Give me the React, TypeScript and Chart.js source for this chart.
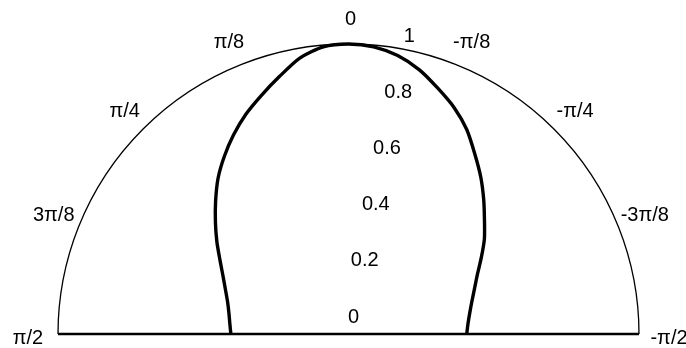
import { useEffect, useRef } from "react";
import { Chart, registerables } from "chart.js";

Chart.register(...registerables);

// Normalised pattern magnitude, sampled by angle from broadside (degrees).
// Positive angles open to the left half, negative angles to the right half.
const LEFT_ANGLES = [0, 5, 10, 15, 20, 25, 30, 35, 40, 45, 50, 55, 60, 65, 70, 75, 80, 85, 90];
const LEFT_GAIN = [1.0, 0.994, 0.966, 0.919, 0.876, 0.836, 0.792, 0.746, 0.699, 0.647, 0.598, 0.553, 0.511, 0.477, 0.451, 0.431, 0.418, 0.41, 0.405];

const RIGHT_ANGLES = [0, -5, -10, -15, -20, -25, -30, -35, -40, -45, -50, -55, -60, -65, -70, -75, -80, -85, -90];
const RIGHT_GAIN = [1.0, 0.994, 0.975, 0.943, 0.901, 0.861, 0.814, 0.758, 0.708, 0.658, 0.611, 0.571, 0.528, 0.49, 0.462, 0.44, 0.424, 0.413, 0.407];

// Radial axis labels, drawn along a spoke at -π/16
const RADIAL_TICKS = [0, 0.2, 0.4, 0.6, 0.8, 1];
const RADIAL_TICK_LABELS = ["0", "0.2", "0.4", "0.6", "0.8", "1"];
const RADIAL_AXIS_ANGLE = -11.25;

// Angular labels around the rim (degrees)
const ANGLE_TICKS = [0, 22.5, 45, 67.5, 90, -22.5, -45, -67.5, -90];
const ANGLE_TICK_LABELS = ["0", "π/8", "π/4", "3π/8", "π/2", "-π/8", "-π/4", "-3π/8", "-π/2"];

const FONT = '20px "Liberation Sans", Arial, Helvetica, sans-serif';

const toRad = (d: number) => (d * Math.PI) / 180;

function patternPoints() {
  const samples: { a: number; g: number }[] = [];
  RIGHT_ANGLES.forEach((a, i) => samples.push({ a, g: RIGHT_GAIN[i] }));
  LEFT_ANGLES.forEach((a, i) => {
    if (a !== 0) samples.push({ a, g: LEFT_GAIN[i] });
  });
  samples.sort((p, q) => p.a - q.a);
  return samples.map(({ a, g }) => ({ x: -g * Math.sin(toRad(a)), y: g * Math.cos(toRad(a)) }));
}

const polarFrame = {
  id: "polarFrame",
  beforeDatasetsDraw(chart: any) {
    const { ctx, scales } = chart;
    const xs = scales.x;
    const ys = scales.y;
    const cx = xs.getPixelForValue(0);
    const cy = ys.getPixelForValue(0);
    const rx = xs.getPixelForValue(1) - cx;
    const ry = cy - ys.getPixelForValue(1);
    ctx.save();
    ctx.strokeStyle = "#000";
    ctx.lineWidth = 1.3;
    ctx.beginPath();
    ctx.ellipse(cx, cy, rx, ry, 0, Math.PI, 2 * Math.PI);
    ctx.stroke();
    ctx.lineWidth = 2.4;
    ctx.beginPath();
    ctx.moveTo(cx - rx, cy);
    ctx.lineTo(cx + rx, cy);
    ctx.stroke();
    ctx.restore();
  },
  afterDraw(chart: any) {
    const { ctx, scales } = chart;
    const xs = scales.x;
    const ys = scales.y;
    const cx = xs.getPixelForValue(0);
    const cy = ys.getPixelForValue(0);
    const rx = xs.getPixelForValue(1) - cx;
    const ry = cy - ys.getPixelForValue(1);
    ctx.save();
    ctx.fillStyle = "#000";
    ctx.font = FONT;
    ctx.textAlign = "center";
    ctx.textBaseline = "middle";

    // rim labels
    ANGLE_TICKS.forEach((deg, i) => {
      const t = toRad(deg);
      const s = Math.sin(t);
      const gap = 26 + 4 * s * s;
      const x = cx - (rx + gap) * s + 2 * Math.cos(t);
      const y = cy - (ry + gap) * Math.cos(t) + 3 * s * s + 1;
      ctx.fillText(ANGLE_TICK_LABELS[i], x, y);
    });

    // radial value labels
    const ta = toRad(RADIAL_AXIS_ANGLE);
    RADIAL_TICKS.forEach((v, i) => {
      const x = cx - v * rx * 0.985 * Math.sin(ta) + 5;
      const y = cy - v * ry * 0.985 * Math.cos(ta) - 17;
      ctx.fillText(RADIAL_TICK_LABELS[i], x, y);
    });
    ctx.restore();
  },
};

export default function App() {
  const canvasRef = useRef<HTMLCanvasElement | null>(null);

  useEffect(() => {
    const canvas = canvasRef.current;
    if (!canvas) return;
    const chart = new Chart(canvas, {
      type: "scatter",
      data: {
        datasets: [
          {
            data: patternPoints(),
            showLine: true,
            borderColor: "#000",
            borderWidth: 3.4,
            pointRadius: 0,
            tension: 0.25,
            fill: false,
            clip: false,
          } as any,
        ],
      },
      options: {
        responsive: false,
        animation: false,
        devicePixelRatio: 1,
        layout: { padding: { left: 58, right: 47, top: 44, bottom: 14 } },
        plugins: { legend: { display: false }, tooltip: { enabled: false } },
        scales: {
          x: { type: "linear", min: -1, max: 1, display: false },
          y: { type: "linear", min: 0, max: 1, display: false },
        },
      },
      plugins: [polarFrame],
    });
    return () => chart.destroy();
  }, []);

  return (
    <div style={{ position: "fixed", left: 0, top: 0, width: 686, height: 348, background: "#fff" }}>
      <canvas ref={canvasRef} width={686} height={348} style={{ display: "block" }} />
    </div>
  );
}
